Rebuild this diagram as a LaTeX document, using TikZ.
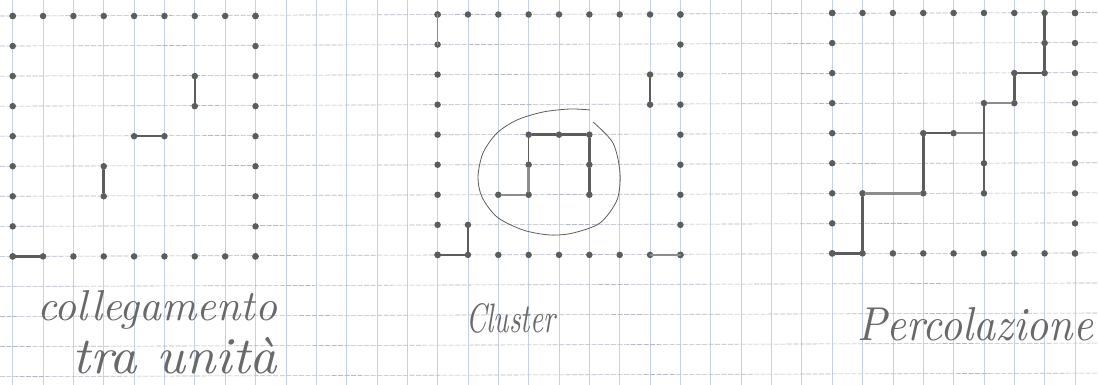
\documentclass[tikz,border=0pt]{standalone}
\usepackage{graphicx}
\definecolor{pencil}{RGB}{92,92,92}
\definecolor{pencillight}{RGB}{140,140,140}
\definecolor{gridv}{RGB}{196,210,232}
\definecolor{gridh}{RGB}{178,184,196}
\definecolor{inkgrey}{RGB}{105,105,105}
\tikzset{
  dot/.style={circle,fill=pencil,inner sep=0pt,minimum size=6.5pt},
  bond/.style={draw=pencil,line width=2.6pt,line cap=round},
  faintbond/.style={draw=pencillight,line width=1.4pt,line cap=round},
  thinbond/.style={draw=pencil,line width=1.2pt,line cap=round},
  loopline/.style={draw=pencil,line width=0.8pt},
  label/.style={text=inkgrey,inner sep=0pt,anchor=base west}
}
\begin{document}
\begin{tikzpicture}[x=1pt,y=-1pt]
\useasboundingbox (0,0) rectangle (1098,385);
\fill[white] (0,0) rectangle (1098,385);
% grid paper
\foreach \k in {0,...,35}{
  \draw[gridv,line width=0.7pt] ({12.7+30.35*\k},0) -- ({12.7+30.35*\k},385);
}
\foreach \k in {0,...,12}{
  \draw[gridh,line width=0.6pt,dash pattern=on 5pt off 1.5pt] (0,{16+30.05*\k}) -- (1098,{12.5+30.05*\k});
}
% lattice coordinates for the three panels
\foreach \p/\xo/\yo in {a/12.7/16,b/437.6/14.5,c/832.2/13}{
  \foreach \i in {0,...,8}{
    \foreach \j in {0,...,8}{
      \coordinate (\p-\i-\j) at ({\xo+30.35*\i},{\yo+30.05*\j});
    }
  }
}
% perimeter dots
\foreach \p in {a,b,c}{
  \foreach \i in {0,...,8}{
    \node[dot] (t\p\i) at (\p-\i-0) {};
    \node[dot] (m\p\i) at (\p-\i-8) {};
    \node[dot] (l\p\i) at (\p-0-\i) {};
    \node[dot] (r\p\i) at (\p-8-\i) {};
  }
}
% ---------- panel 1: collegamento tra unita
\foreach \n in {6-2,6-3,4-4,5-4,3-5,3-6}{\node[dot] (da\n) at (a-\n) {};}
\draw[bond] (a-0-8) -- (a-1-8);
\draw[bond] (da6-2) -- (da6-3);
\draw[bond] (da4-4) -- (da5-4);
\draw[bond] (da3-5) -- (da3-6);
% ---------- panel 2: cluster
\foreach \n in {7-2,7-3,3-4,4-4,5-4,3-5,5-5,2-6,3-6,5-6,1-7}{\node[dot] (db\n) at (b-\n) {};}
\draw[bond] (db7-2) -- (db7-3);
\draw[bond] (db3-4) -- (db4-4) -- (db5-4);
\draw[thinbond] (db3-4) -- (db3-5);
\draw[bond,draw=pencillight] (db3-5) -- (db3-6);
\draw[bond,draw=pencillight] (db2-6) -- (db3-6);
\draw[bond] (db5-4) -- (db5-5) -- (db5-6);
\draw[bond] (b-0-8) -- (b-1-8);
\draw[bond] (db1-7) -- (b-1-8);
\draw[faintbond] (b-0-0) -- (b-0-1);
\draw[faintbond] (b-7-8) -- (b-8-8);
% hand-drawn loop around the cluster
\draw[loopline] plot[smooth] coordinates {(593,122) (613,143) (620,173) (617,200) (600,223) (573,233) (550,235) (523,230) (497,217) (482,197) (478,177) (483,153) (497,133) (517,120) (543,112) (570,109) (590,110)};
% ---------- panel 3: percolazione
\foreach \n in {1-6,3-6,3-4,4-4,5-3,5-5,5-6,6-3,6-2,7-2,7-1}{\node[dot] (dc\n) at (c-\n) {};}
\draw[bond] (c-0-8) -- (c-1-8) -- (dc1-6);
\draw[bond,draw=pencillight] (dc1-6) -- (dc3-6);
\draw[bond] (dc3-6) -- (dc3-4) -- (dc4-4);
\draw[bond,draw=pencillight] (dc4-4) -- (c-5-4);
\draw[bond] (dc5-3) -- (dc5-5) -- (dc5-6);
\draw[bond,draw=pencillight] (dc5-3) -- (dc6-3);
\draw[bond] (dc6-3) -- (dc6-2) -- (dc7-2) -- (dc7-1) -- (c-7-0);
% ---------- labels
\node[label] (lab1) at (37,320) {\resizebox{240pt}{30pt}{\itshape collegamento}};
\node[label] (lab2) at (72,373) {\resizebox{205pt}{36pt}{\itshape tra unità}};
\node[label] (lab3) at (466,332) {\resizebox{89pt}{29pt}{\itshape Cluster}};
\node[label] (lab4) at (857,340) {\resizebox{236pt}{33pt}{\itshape Percolazione}};
\end{tikzpicture}
\end{document}
